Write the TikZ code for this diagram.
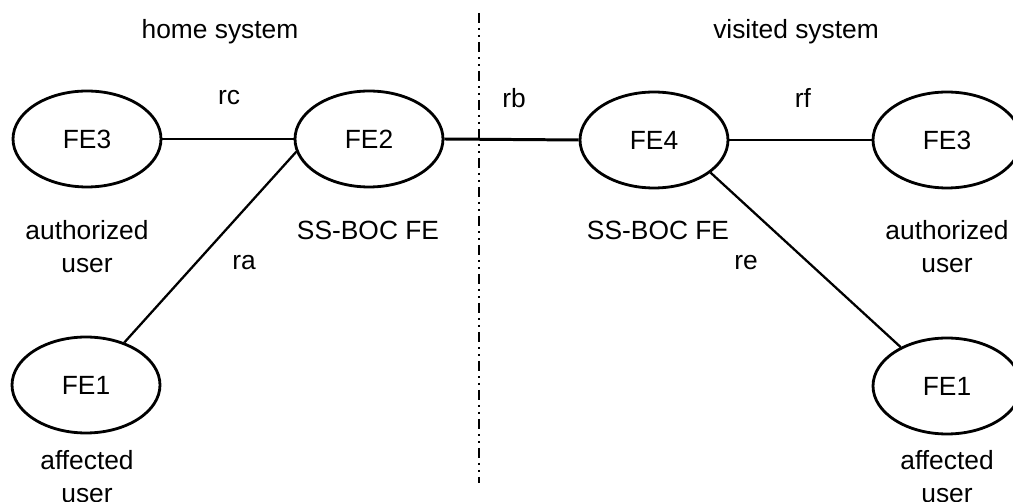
\documentclass[tikz,border=0pt]{standalone}
\usepackage{fontspec}
\setmainfont{Liberation Sans}
\usetikzlibrary{shapes.geometric}
\tikzset{
  fenode/.style={draw, ellipse, line width=1.6pt, minimum width=2.96cm,
                 minimum height=1.92cm, inner sep=0pt},
  lbl/.style={align=center, inner sep=0pt},
  link/.style={line width=1.7pt},
  slink/.style={line width=1.3pt},
  border/.style={line width=1.6pt,
                 dash pattern=on 0.2cm off 0.1cm on 0.04cm off 0.1cm on 0.04cm off 0.1cm},
}

\begin{document}
\begin{tikzpicture}[x=0.02cm, y=-0.02cm,
    every node/.append style={font=\fontsize{15}{18.7}\selectfont}]
  \useasboundingbox (0,0) rectangle (1013,502);

  % Header labels
  \node[lbl] (home) at (220,32) {home system};
  \node[lbl] (visited) at (796,32) {visited system};

  % System border
  \coordinate (btop) at (479,13);
  \coordinate (bbot) at (479,483);
  \draw[border] (btop) -- (bbot);

  % Functional entities
  \node[fenode] (fe3h) at (87,139) {FE3};
  \node[fenode] (fe2) at (369,139) {FE2};
  \node[fenode] (fe4) at (654,140) {FE4};
  \node[fenode] (fe3v) at (947,140) {FE3};
  \node[fenode] (fe1h) at (86,385) {FE1};
  \node[fenode] (fe1v) at (947,386) {FE1};

  % Relationships
  \draw[link] (fe3h.east) -- (fe2.west);
  \draw[link] (fe2.east) -- (fe4.west);
  \draw[link] (fe4.east) -- (fe3v.west);
  \draw[slink] (fe1h) -- (fe2.190);
  \draw[slink] (fe4.330) -- (fe1v.140);

  % Relationship names
  \node[lbl] (rc) at (229,98) {rc};
  \node[lbl] (rb) at (514,98) {rb};
  \node[lbl] (rf) at (803,98) {rf};
  \node[lbl] (ra) at (244,263) {ra};
  \node[lbl] (re) at (746,263) {re};

  % Entity roles
  \node[lbl] (bochome) at (368,230) {SS-BOC FE};
  \node[lbl] (bocvis) at (658,230) {SS-BOC FE};
  \node[lbl] (authh) at (87,247) {authorized\\user};
  \node[lbl] (authv) at (947,247) {authorized\\user};
  \node[lbl] (affh) at (87,477) {affected\\user};
  \node[lbl] (affv) at (947,477) {affected\\user};
\end{tikzpicture}
\end{document}
